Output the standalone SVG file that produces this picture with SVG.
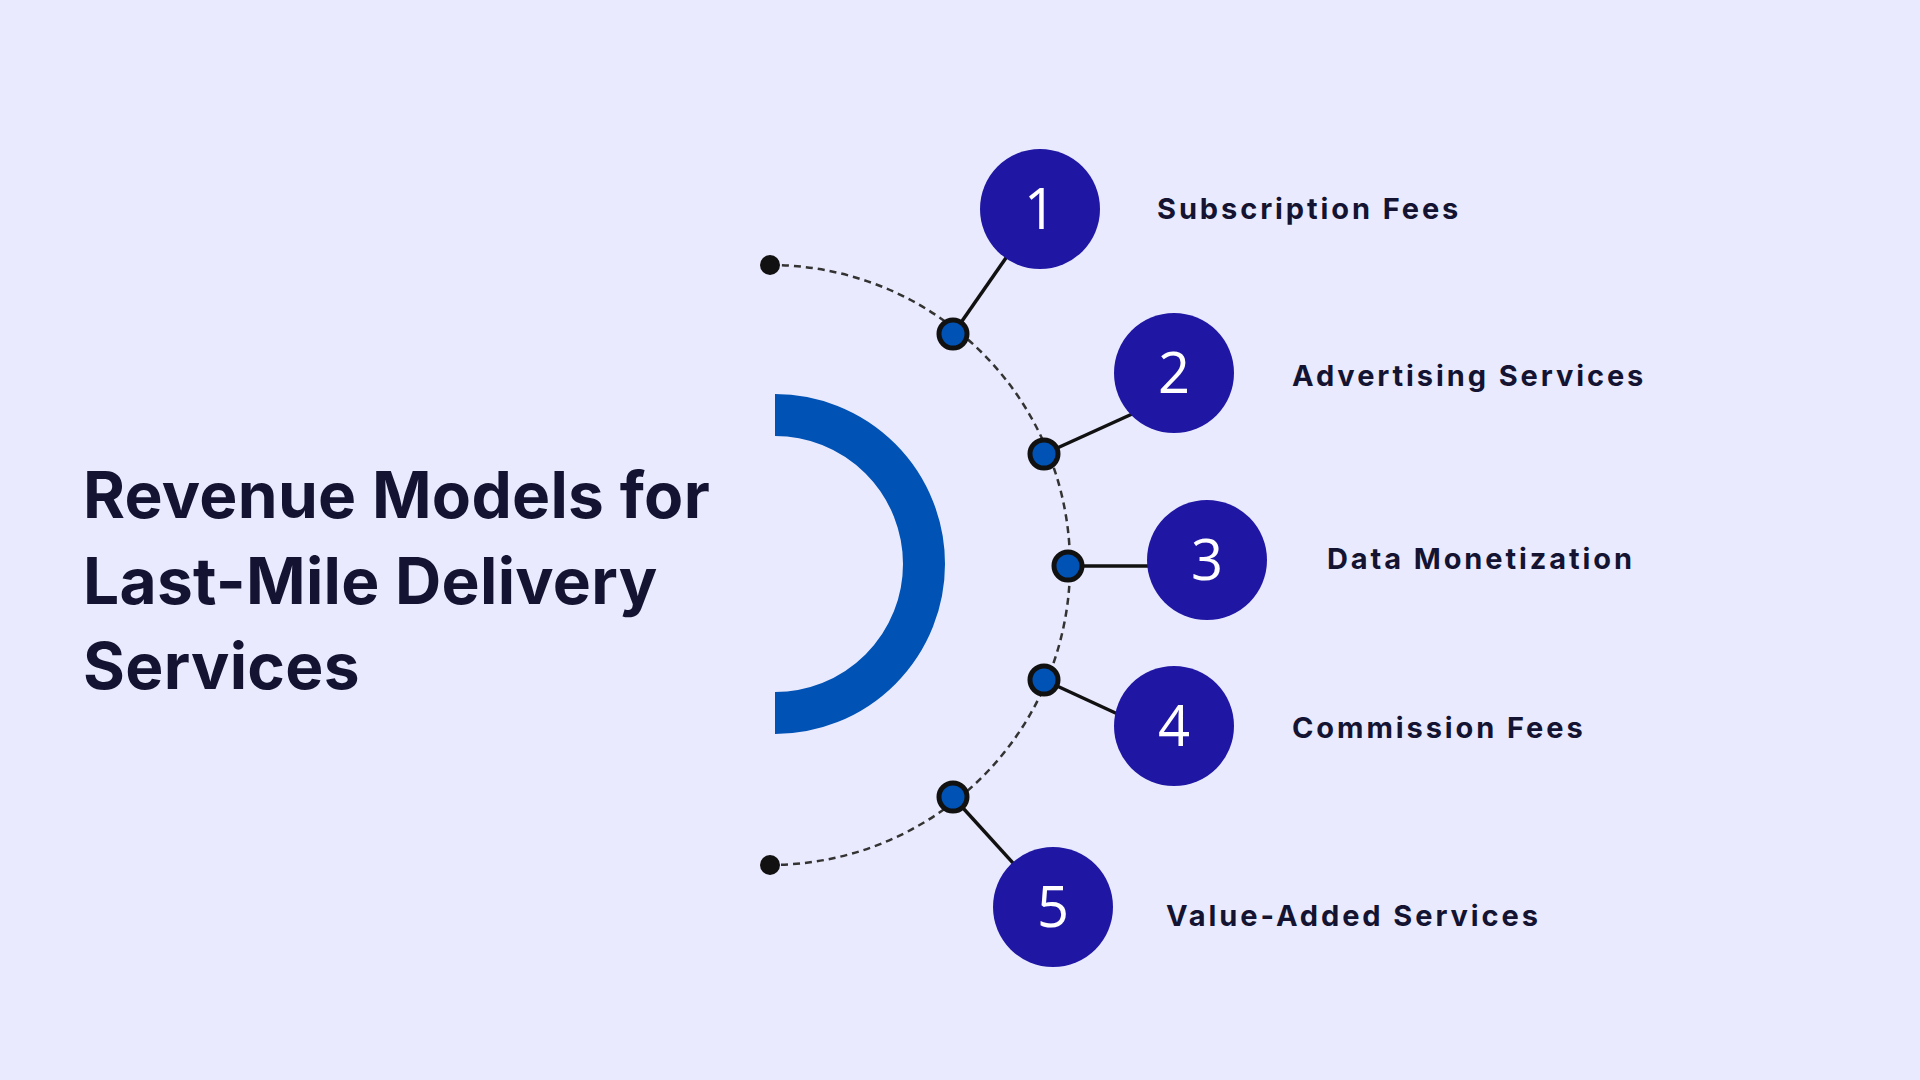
<svg xmlns="http://www.w3.org/2000/svg" width="1920" height="1080" viewBox="0 0 1920 1080">
<style>
.title{font-family:Inter,"Liberation Sans",sans-serif;font-weight:700;font-size:64px;fill:#141432;letter-spacing:0.3px}
.lbl{font-family:Inter,"Liberation Sans",sans-serif;font-weight:700;font-size:29px;fill:#141432;letter-spacing:2.9px}
.num{font-family:"Open Sans","Liberation Sans",sans-serif;font-size:56px;fill:#fff;text-anchor:middle}
.nc{fill:#1F17A3}
.dot{fill:#0052B4;stroke:#111;stroke-width:5}
.ln{stroke:#111;stroke-width:3.5}
</style>
<rect width="1920" height="1080" fill="#E9EAFD"/>
<g id="title">
<text class="title" x="83" y="518">Revenue Models for</text>
<text class="title" x="83" y="604">Last-Mile Delivery</text>
<text class="title" x="83" y="689">Services</text>
</g>
<path d="M775 415 A149 149 0 0 1 775 713" fill="none" stroke="#0052B4" stroke-width="42"/>
<g id="connectors">
<path d="M770 265 A300 300 0 0 1 770 865" fill="none" stroke="#333" stroke-width="2.5" stroke-dasharray="7,5"/>
<circle cx="770" cy="265" r="10" fill="#111"/>
<circle cx="770" cy="865" r="10" fill="#111"/>
<line class="ln" x1="953" y1="334" x2="1040" y2="209"/>
<line class="ln" x1="1044" y1="454" x2="1174" y2="395"/>
<line class="ln" x1="1068" y1="566" x2="1207" y2="566"/>
<line class="ln" x1="1044" y1="680" x2="1174" y2="740"/>
<line class="ln" x1="953" y1="797" x2="1053" y2="907"/>
<circle class="dot" cx="953" cy="334" r="14"/>
<circle class="dot" cx="1044" cy="454" r="14"/>
<circle class="dot" cx="1068" cy="566" r="14"/>
<circle class="dot" cx="1044" cy="680" r="14"/>
<circle class="dot" cx="953" cy="797" r="14"/>
</g>
<g id="n1"><circle class="nc" cx="1040" cy="209" r="60"/><text class="num" x="1040" y="229">1</text><text class="lbl" x="1157" y="219">Subscription Fees</text></g>
<g id="n2"><circle class="nc" cx="1174" cy="373" r="60"/><text class="num" x="1174" y="393">2</text><text class="lbl" x="1292" y="386">Advertising Services</text></g>
<g id="n3"><circle class="nc" cx="1207" cy="560" r="60"/><text class="num" x="1207" y="580">3</text><text class="lbl" x="1327" y="569">Data Monetization</text></g>
<g id="n4"><circle class="nc" cx="1174" cy="726" r="60"/><text class="num" x="1174" y="746">4</text><text class="lbl" x="1292" y="738">Commission Fees</text></g>
<g id="n5"><circle class="nc" cx="1053" cy="907" r="60"/><text class="num" x="1053" y="927">5</text><text class="lbl" x="1166" y="926">Value-Added Services</text></g>
</svg>
